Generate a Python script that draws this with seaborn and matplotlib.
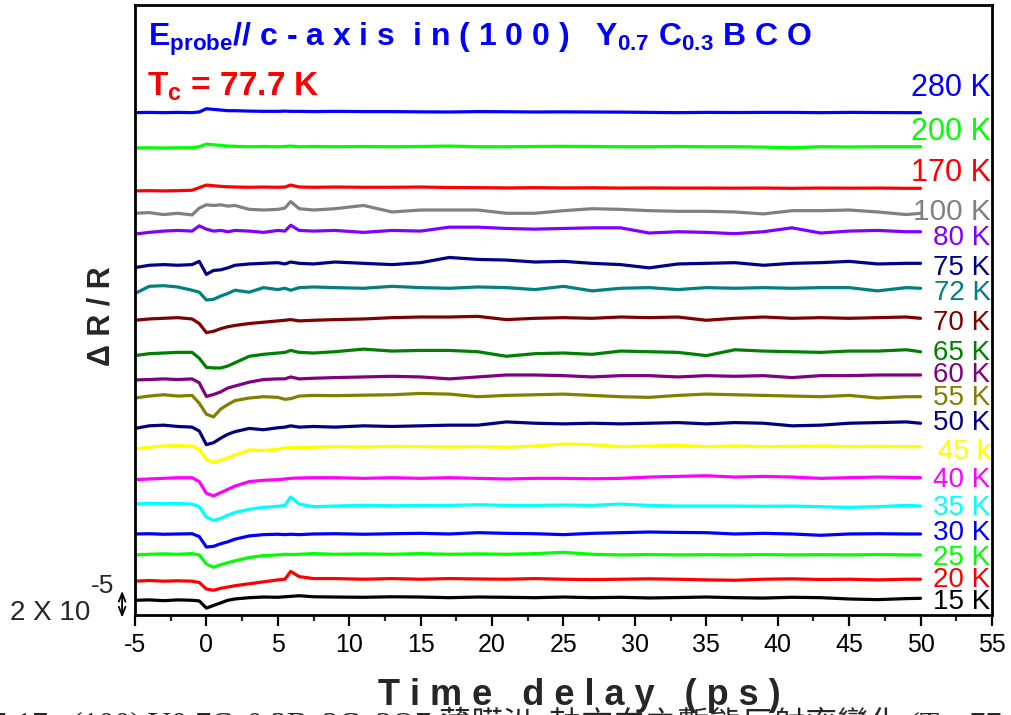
import numpy as np
import pandas as pd
import matplotlib
matplotlib.use("Agg")
import matplotlib.pyplot as plt
from matplotlib import font_manager
from matplotlib.ticker import MultipleLocator
import seaborn as sns

# shared time grid (ps)
time_ps = [-5, -4, -3, -2, -1, -0.5, 0, 0.5, 1, 1.5, 2, 3, 4, 5, 5.5, 5.9, 6.5, 7.5, 9, 11,
           13, 15, 17, 19, 21, 23, 25, 27, 29, 31, 33, 35, 37, 39, 41, 43, 45, 47, 49, 50]

# dR/R traces in units of 1e-5, relative to each trace's level at 50 ps
k15 = [-0.15, -0.12, -0.18, -0.12, -0.15, -0.2, -0.75, -0.55, -0.35, -0.15, -0.05, 0.05, 0.1, 0.08, 0.12, 0.15, 0.2, 0.12, 0.1, 0.08,
       0.12, 0.1, 0.05, 0.1, 0.08, 0.05, 0.1, 0.05, 0.08, 0.03, 0.06, 0.1, 0.05, 0.02, 0.08, 0.05, -0.05, -0.1, -0.02, 0.0]
k20 = [-0.15, -0.1, -0.15, -0.12, -0.15, -0.25, -0.75, -0.85, -0.7, -0.6, -0.5, -0.35, -0.2, -0.05, 0.0, 0.6, 0.2, 0.05, 0.05, 0.0,
       0.05, 0.0, 0.05, 0.02, 0.0, 0.05, 0.0, -0.03, 0.0, 0.03, 0.0, -0.05, -0.08, 0.0, 0.03, -0.02, 0.0, -0.05, 0.0, 0.0]
k25 = [0.0, 0.05, 0.08, 0.05, 0.1, 0.0, -0.7, -0.95, -0.75, -0.6, -0.45, -0.2, -0.05, 0.0, 0.05, 0.03, 0.05, 0.1, 0.05, 0.08,
       0.05, 0.1, 0.05, 0.08, 0.05, 0.1, 0.2, 0.05, 0.0, 0.03, 0.0, 0.02, 0.0, 0.03, 0.0, 0.02, 0.0, 0.03, 0.0, 0.0]
k30 = [0.0, 0.02, -0.02, 0.0, 0.02, -0.2, -1.0, -0.95, -0.75, -0.6, -0.4, -0.15, -0.05, -0.02, -0.05, -0.02, -0.05, 0.0, 0.02, -0.02,
       0.02, 0.05, 0.0, 0.1, 0.05, 0.02, -0.05, 0.05, 0.1, 0.15, 0.12, 0.1, 0.0, 0.05, 0.0, -0.1, 0.0, 0.02, 0.0, 0.0]
k35 = [0.15, 0.2, 0.18, 0.2, 0.15, -0.05, -0.85, -1.1, -0.95, -0.7, -0.5, -0.25, -0.1, -0.02, 0.05, 0.7, 0.15, -0.05, 0.0, 0.05,
       0.02, 0.05, 0.05, 0.1, 0.05, 0.05, 0.08, 0.05, 0.15, 0.05, 0.0, 0.0, 0.0, -0.02, 0.0, -0.05, -0.1, -0.05, 0.05, 0.0]
k40 = [-0.15, -0.1, -0.05, 0.0, 0.0, -0.3, -1.2, -1.4, -1.15, -0.9, -0.65, -0.3, -0.2, -0.15, -0.1, -0.05, -0.02, 0.0, 0.0, -0.05,
       0.0, -0.05, 0.0, -0.05, -0.1, -0.05, -0.05, -0.08, -0.05, 0.05, 0.1, 0.15, 0.05, 0.1, 0.05, -0.05, 0.0, 0.05, 0.02, 0.0]
k45 = [-0.18, -0.05, 0.05, 0.08, 0.05, -0.2, -1.0, -1.2, -1.05, -0.85, -0.65, -0.25, -0.3, -0.2, -0.1, -0.05, -0.08, -0.05, 0.0, -0.03,
       0.02, 0.0, -0.03, 0.0, -0.05, 0.05, 0.2, 0.15, 0.0, 0.05, 0.1, 0.0, 0.05, 0.0, 0.02, 0.05, 0.0, 0.02, 0.0, 0.0]
k50 = [-0.4, -0.2, -0.15, -0.25, -0.3, -0.6, -1.65, -1.5, -1.15, -0.85, -0.65, -0.4, -0.5, -0.35, -0.3, -0.2, -0.3, -0.25, -0.3, -0.2,
       -0.25, -0.2, -0.15, -0.15, 0.1, 0.0, -0.05, 0.0, -0.05, 0.0, 0.05, -0.05, 0.05, 0.0, -0.2, -0.15, 0.0, 0.05, 0.1, 0.0]
k55 = [-0.1, 0.05, 0.15, 0.05, 0.1, -0.5, -1.35, -1.55, -0.95, -0.6, -0.3, -0.1, 0.0, -0.05, -0.2, -0.15, 0.05, 0.1, 0.08, 0.12,
       0.15, 0.25, 0.2, 0.0, 0.1, 0.15, 0.2, 0.1, 0.0, -0.05, 0.1, 0.2, 0.15, 0.1, 0.05, 0.0, 0.1, -0.1, 0.0, 0.0]
k60 = [-0.38, -0.35, -0.3, -0.35, -0.3, -0.6, -1.65, -1.5, -1.3, -1.0, -0.85, -0.55, -0.35, -0.3, -0.3, -0.15, -0.3, -0.25, -0.2, -0.15,
       -0.1, -0.15, -0.3, -0.15, 0.0, 0.0, -0.05, -0.15, -0.05, -0.05, -0.15, -0.05, -0.1, -0.05, -0.2, -0.05, -0.05, 0.0, 0.0, 0.0]
k65 = [-0.3, -0.15, -0.1, -0.05, -0.05, -0.5, -1.2, -1.25, -1.25, -1.1, -0.85, -0.35, -0.2, -0.1, -0.05, 0.1, -0.05, -0.1, 0.0, 0.2,
       0.05, 0.1, 0.1, 0.0, -0.35, -0.15, -0.1, -0.2, 0.05, 0.0, -0.05, -0.3, 0.15, 0.05, 0.0, -0.05, 0.05, 0.05, 0.15, 0.0]
k70 = [-0.15, -0.05, 0.0, 0.05, -0.05, -0.4, -1.1, -1.0, -0.8, -0.65, -0.55, -0.4, -0.3, -0.2, -0.15, -0.1, -0.2, -0.15, -0.1, -0.05,
       0.05, 0.1, 0.1, 0.15, -0.1, 0.0, 0.05, 0.0, 0.1, 0.05, 0.1, -0.15, 0.0, 0.1, 0.0, 0.05, 0.0, 0.05, 0.1, 0.0]
k72 = [-0.4, 0.15, 0.2, 0.1, -0.15, -0.3, -0.9, -0.85, -0.6, -0.4, -0.15, -0.3, 0.05, -0.1, 0.0, -0.15, 0.05, 0.1, 0.05, 0.0,
       0.15, 0.05, 0.0, 0.1, 0.05, -0.1, 0.15, -0.2, 0.0, 0.05, -0.1, 0.05, 0.0, 0.05, 0.0, 0.05, 0.05, -0.2, 0.05, 0.0]
k75 = [-0.33, -0.15, -0.1, -0.15, -0.1, 0.15, -0.85, -0.55, -0.5, -0.35, -0.15, -0.05, 0.0, 0.05, -0.05, 0.1, 0.0, -0.05, 0.1, 0.0,
       -0.1, 0.05, 0.45, 0.3, 0.25, 0.1, 0.15, 0.0, -0.1, -0.35, -0.05, 0.0, 0.05, -0.15, 0.0, 0.05, 0.15, -0.05, 0.0, 0.0]
k80 = [-0.18, -0.05, 0.05, 0.1, 0.05, 0.45, 0.2, 0.05, 0.1, 0.0, 0.1, 0.05, -0.05, 0.1, 0.05, 0.5, 0.1, 0.05, 0.1, -0.05,
       0.1, 0.05, 0.35, 0.35, 0.25, 0.2, 0.25, 0.3, 0.3, -0.1, 0.0, -0.05, -0.15, 0.0, 0.3, -0.1, 0.05, 0.1, 0.0, 0.0]
k100 = [0.0, 0.05, -0.1, 0.0, -0.13, 0.4, 0.65, 0.6, 0.65, 0.55, 0.6, 0.3, 0.25, 0.3, 0.4, 0.9, 0.35, 0.25, 0.35, 0.6,
        0.1, 0.25, 0.25, 0.25, 0.0, 0.0, 0.2, 0.35, 0.3, 0.2, 0.15, 0.15, 0.1, -0.05, 0.2, 0.2, 0.25, 0.1, -0.1, 0.0]
k170 = [-0.2, -0.18, -0.2, -0.18, -0.15, 0.05, 0.25, 0.2, 0.15, 0.12, 0.1, 0.08, 0.1, 0.08, 0.1, 0.25, 0.1, 0.08, 0.1, 0.08,
        0.08, 0.1, 0.06, 0.05, 0.03, 0.05, 0.03, 0.04, 0.02, 0.03, 0.02, 0.02, 0.01, 0.02, 0.0, 0.02, 0.01, 0.02, 0.0, 0.0]
k200 = [-0.1, -0.08, -0.1, -0.08, -0.08, 0.0, 0.2, 0.15, 0.1, 0.05, 0.03, 0.0, 0.02, 0.0, 0.02, 0.05, 0.0, 0.02, 0.0, 0.02,
        0.0, 0.02, 0.05, 0.0, 0.0, 0.02, 0.03, 0.02, 0.0, 0.0, 0.02, 0.0, 0.0, -0.03, -0.08, 0.0, -0.02, 0.0, 0.0, 0.0]
k280 = [0.0, 0.02, 0.0, 0.02, 0.0, 0.05, 0.3, 0.25, 0.2, 0.15, 0.15, 0.12, 0.1, 0.1, 0.12, 0.1, 0.1, 0.08, 0.1, 0.08,
        0.08, 0.06, 0.05, 0.08, 0.07, 0.05, 0.06, 0.05, 0.04, 0.02, 0.0, 0.02, 0.01, 0.02, 0.02, 0.0, 0.02, 0.01, 0.0, 0.0]

traces = [k15, k20, k25, k30, k35, k40, k45, k50, k55, k60, k65, k70, k72, k75, k80, k100, k170, k200, k280]
temp_labels = ["15 K", "20 K", "25 K", "30 K", "35 K", "40 K", "45 k", "50 K", "55 K", "60 K",
               "65 K", "70 K", "72 K", "75 K", "80 K", "100 K", "170 K", "200 K", "280 K"]
# vertical offset of each trace (1e-5)
offsets = [1.28, 2.75, 4.62, 6.23, 8.38, 10.56, 12.95, 14.75, 16.79, 18.46,
           20.25, 22.82, 25.13, 27.05, 29.48, 30.9, 32.82, 36.02, 38.64]
colors = ["#000000", "#ff0000", "#00ff00", "#0000ff", "#00ffff", "#ff00ff", "#ffff00", "#000080", "#808000", "#800080",
          "#008000", "#800000", "#008080", "#00008b", "#8000ff", "#808080", "#ff0000", "#00ff00", "#0000ff"]

# label placement (layout only)
label_nudge = [-0.26, -0.05, -0.25, 0.05, -0.18, -0.18, -0.38, 0.0, -0.12, 0.0,
               -0.12, -0.38, -0.38, -0.34, -0.46, 0.12, 1.18, 1.15, 1.9]
label_size = [20, 20, 20, 20, 20, 20, 20, 20, 20, 20,
              20, 20, 20, 20, 20, 21.5, 22, 22, 22]

for tr in traces:
    if len(tr) != len(time_ps):
        raise ValueError("trace length mismatch")

rows = []
for lab, off, tr in zip(temp_labels, offsets, traces):
    for t, v in zip(time_ps, tr):
        rows.append({"time": t, "signal": off + v, "temp": lab})
df = pd.DataFrame(rows)

sns.set_theme(style="white")
names = {f.name for f in font_manager.fontManager.ttflist}
narrow = "Liberation Sans Narrow" if "Liberation Sans Narrow" in names else "Liberation Sans"
plt.rcParams["font.family"] = ["Liberation Sans", "DejaVu Sans"]
plt.rcParams["axes.unicode_minus"] = False
plt.rcParams["mathtext.fontset"] = "custom"
plt.rcParams["mathtext.rm"] = "Liberation Sans"
plt.rcParams["mathtext.bf"] = "Liberation Sans:bold"
plt.rcParams["mathtext.it"] = "Liberation Sans:italic"

fig, ax = plt.subplots(figsize=(10.11, 7.15), dpi=100)
fig.subplots_adjust(left=0.1335, right=0.9812, bottom=0.1399, top=0.993)

sns.lineplot(data=df, x="time", y="signal", hue="temp", hue_order=temp_labels,
             palette=dict(zip(temp_labels, colors)), estimator=None, sort=False,
             legend=False, linewidth=2.3, ax=ax)

ax.set_xlim(-5, 55)
ax.set_ylim(0, 46.92)
ax.set_xticks(range(-5, 56, 5))
ax.xaxis.set_minor_locator(MultipleLocator(2.5))
ax.set_yticks([])
ax.tick_params(axis="x", which="major", direction="out", length=8, width=1.6,
               labelsize=18, pad=5, bottom=True, colors="black")
ax.tick_params(axis="x", which="minor", direction="out", length=4, width=1.6, bottom=True)
for sp in ax.spines.values():
    sp.set_visible(True)
    sp.set_color("black")
    sp.set_linewidth(2)

# temperature labels on the right
for lab, off, col, nud, fs in zip(temp_labels, offsets, colors, label_nudge, label_size):
    ax.text(54.9, off + nud, lab, color=col, fontsize=fs, ha="right", va="center",
            clip_on=False)

# axis labels
ax.set_xlabel("T i m e   d e l a y   ( p s )", fontsize=26, fontweight="bold",
              family=[narrow, "DejaVu Sans"])
ax.xaxis.set_label_coords(0.519, -0.104)
ax.set_ylabel("Δ R / R", fontsize=22, fontweight="bold")
ax.yaxis.set_label_coords(-0.022, 0.49)

# headings inside the frame
ax.text(0.015, 0.943,
        r"E$_{\mathbf{probe}}$// c - a x i s  i n ( 1 0 0 )   Y$_{\mathbf{0.7}}$ C$_{\mathbf{0.3}}$ B C O",
        transform=ax.transAxes, color="#0000ff", fontsize=23, fontweight="bold",
        ha="left", va="center")
ax.text(0.014, 0.866, r"T$_{\mathbf{c}}$ = 77.7 K", transform=ax.transAxes,
        color="#ff0000", fontsize=24, fontweight="bold", ha="left", va="center")

# scale bar
ax.annotate("", xy=(-5.9, -0.2), xytext=(-5.9, 1.85), xycoords="data",
            arrowprops=dict(arrowstyle="<->,head_length=0.5,head_width=0.2",
                            lw=1.3, color="black", shrinkA=0, shrinkB=0),
            annotation_clip=False)
fig.text(90 / 1011, 1 - 613 / 715, "2 X 10", fontsize=20, ha="right", va="center")
fig.text(91 / 1011, 1 - 586 / 715, "-5", fontsize=19, ha="left", va="center")

# cropped caption line at the bottom of the scan
fig.text(-40 / 1011, 1 - 707 / 715,
         "圖5.17   (100) Y0.7Ca0.3Ba2Cu3O7 薄膜沿c軸方向之暫態反射率變化 (Tc=77.7 K)",
         fontsize=23, ha="left", va="top",
         family=["Liberation Serif", "Noto Sans CJK TC", "DejaVu Sans"])

fig.savefig("out.png", dpi=100)
